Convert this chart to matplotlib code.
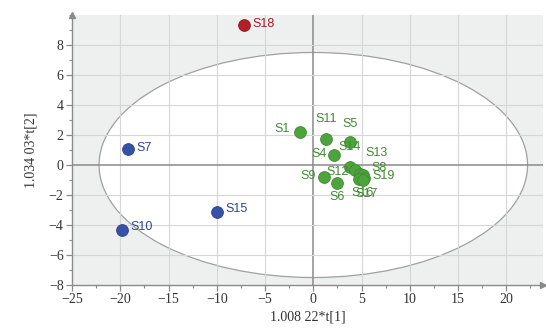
import matplotlib
matplotlib.use("Agg")
import matplotlib.pyplot as plt
from matplotlib.patches import Ellipse
from matplotlib.ticker import MultipleLocator
import numpy as np

# Score values t[1], t[2] per sample
samples = ["S1", "S11", "S5", "S4", "S14", "S12", "S13", "S8", "S19", "S16", "S17",
           "S9", "S6", "S7", "S10", "S15", "S18"]
t1 = [-1.4, 1.3, 3.8, 2.1, 3.8, 4.3, 4.8, 5.2, 5.3, 4.7, 5.1,
      1.1, 2.5, -19.2, -19.8, -10.0, -7.2]
t2 = [2.2, 1.75, 1.5, 0.65, -0.1, -0.35, -0.6, -0.65, -0.85, -0.95, -1.0,
      -0.8, -1.2, 1.05, -4.35, -3.1, 9.3]
groups = ["g"] * 13 + ["b", "b", "b", "r"]

# Hotelling T2 ellipse semi-axes
ell_a, ell_b = 22.2, 7.5

fill_colors = {"g": "#4ea43c", "b": "#3552a8", "r": "#b02127"}
edge_colors = {"g": "#3d8a2e", "b": "#29418c", "r": "#8e1a1f"}
text_colors = {"g": "#3f8a30", "b": "#2d4596", "r": "#9b1f24"}

# label offsets (points) and alignment per sample
label_pos = {
    "S1": (-7, 2, "right"), "S11": (0, 14, "center"), "S5": (0, 13, "center"),
    "S4": (-5, 1, "right"), "S14": (0, 14, "center"), "S12": (-4, -1, "right"),
    "S13": (4, 15, "left"), "S8": (6, 5, "left"), "S19": (6, 1, "left"),
    "S16": (3, -10, "center"), "S17": (3, -10, "center"), "S9": (-6, 1, "right"),
    "S6": (0, -10, "center"), "S7": (6, 1, "left"), "S10": (6, 2, "left"),
    "S15": (6, 2, "left"), "S18": (6, 1, "left"),
}

fig = plt.figure(figsize=(5.46, 3.33), dpi=100)
ax = fig.add_axes([0.1319, 0.1441, 0.8626, 0.8109])
ax.set_xlim(-25, 23.8)
ax.set_ylim(-8, 10)
ax.set_facecolor("#eef0f0")

ax.add_patch(Ellipse((0, 0), 2 * ell_a, 2 * ell_b, facecolor="white",
                     edgecolor="#a0a0a0", linewidth=0.9, zorder=1))

ax.xaxis.set_major_locator(MultipleLocator(5))
ax.xaxis.set_minor_locator(MultipleLocator(2.5))
ax.yaxis.set_major_locator(MultipleLocator(2))
ax.yaxis.set_minor_locator(MultipleLocator(1))
ax.set_yticks([-8, -6, -4, -2, 0, 2, 4, 6, 8])

for xv in np.arange(-20, 24, 5):
    ax.axvline(xv, color="#8a8a8a" if xv == 0 else "#d6d6d6",
               lw=1.1 if xv == 0 else 0.8, zorder=2)
for yv in np.arange(-6, 10, 2):
    ax.axhline(yv, color="#8a8a8a" if yv == 0 else "#d6d6d6",
               lw=1.1 if yv == 0 else 0.8, zorder=2)

for s, x, y, g in zip(samples, t1, t2, groups):
    ax.scatter(x, y, s=72, color=fill_colors[g], edgecolor=edge_colors[g],
               linewidth=0.6, zorder=4)
    dx, dy, ha = label_pos[s]
    ax.annotate(s, (x, y), xytext=(dx, dy), textcoords="offset points",
                ha=ha, va="center", fontsize=9, color=text_colors[g],
                family="Liberation Sans", zorder=5)

for sp in ["top", "right"]:
    ax.spines[sp].set_visible(False)
for sp in ["left", "bottom"]:
    ax.spines[sp].set_color("#8a8a8a")
    ax.spines[sp].set_linewidth(1.0)
    ax.spines[sp].set_zorder(3)

# axis arrows
ax.plot(1, 0, ">", transform=ax.transAxes, clip_on=False, color="#8a8a8a",
        markersize=5, zorder=6)
ax.plot(0, 1, "^", transform=ax.transAxes, clip_on=False, color="#8a8a8a",
        markersize=5, zorder=6)

ax.tick_params(axis="both", which="major", length=4, width=0.9, color="#8a8a8a",
               labelsize=10, labelcolor="#333333", pad=2)
ax.tick_params(axis="both", which="minor", length=2.5, width=0.8, color="#8a8a8a")
for lab in ax.get_xticklabels() + ax.get_yticklabels():
    lab.set_family("Liberation Serif")

ax.set_xlabel("1.008 22*t[1]", family="Liberation Serif", fontsize=10,
              color="#333333", labelpad=3)
ax.set_ylabel("1.034 03*t[2]", family="Liberation Serif", fontsize=10,
              color="#333333", labelpad=8)

fig.savefig("out.png", dpi=100)
